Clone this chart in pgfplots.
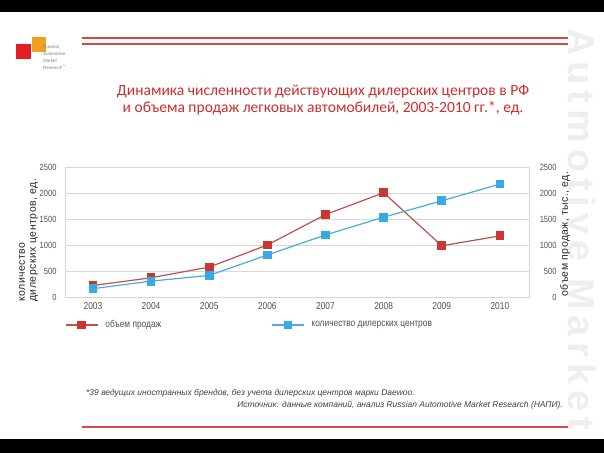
\documentclass[border=0pt]{standalone}
\usepackage{fontspec}
\setmainfont{Liberation Sans}
\newfontfamily\narrowfont{Liberation Sans}[FakeStretch=0.84]
\newfontfamily\titlefont{Carlito}
\newfontfamily\lspaced{Liberation Sans}[LetterSpace=5]
\newfontfamily\rspaced{Liberation Sans}[LetterSpace=4]
\newfontfamily\wmfont{Liberation Sans}[LetterSpace=16]
\usepackage{pgfplots}
\pgfplotsset{compat=1.18}
\definecolor{sred}{RGB}{192,80,77}
\definecolor{smred}{RGB}{200,55,50}
\definecolor{sblue}{RGB}{75,172,220}
\definecolor{smblue}{RGB}{55,170,230}
\definecolor{gridc}{RGB}{215,215,215}
\definecolor{ttl}{RGB}{210,45,45}
\definecolor{lnred}{RGB}{220,70,70}
\definecolor{tickc}{RGB}{80,80,80}
\definecolor{logoor}{RGB}{240,160,30}
\definecolor{logored}{RGB}{225,30,35}
\begin{document}
\begin{tikzpicture}[x=1bp,y=1bp]
\path[use as bounding box] (0,0) rectangle (604,453);
\begin{scope}
\clip (0,0) rectangle (604,453);
\fill[white] (0,0) rectangle (604,453);
\node[rotate=-90, anchor=base west, inner sep=0, text=gray!13, font=\wmfont\fontsize{38}{38}\selectfont\bfseries] at (568,425) {Autmotive Market};
\fill[black] (0,441) rectangle (604,453);
\fill[black] (0,0) rectangle (604,14);
\end{scope}
% decorative lines
\draw[lnred, line width=1.8bp] (82,415) -- (568,415);
\draw[lnred, line width=1.8bp] (82,409) -- (568,409);
\draw[lnred, line width=1.5bp] (82,26) -- (568,26);
% logo
\fill[logoor] (32,401) rectangle (46,416);
\fill[logored] (16,394) rectangle (31,409);
\node[anchor=north west, inner sep=0, align=left, text=gray, font=\fontsize{4.5}{7}\selectfont] at (43,408) {Russian\\Automotive\\Market\\Research\textsuperscript{™}};
% title
\node[align=center, text=ttl, font=\titlefont\fontsize{15.6}{17}\selectfont] at (323,353) {Динамика численности действующих дилерских центров в РФ\\и объема продаж легковых автомобилей, 2003-2010 гг.*, ед.};
% footnotes
\node[anchor=west, inner sep=0, text=black!75, font=\itshape\fontsize{8.5}{9}\selectfont] at (86,60) {*39 ведущих иностранных брендов, без учета дилерских центров марки Daewoo.};
\node[anchor=east, inner sep=0, text=black!75, font=\itshape\fontsize{8.5}{9}\selectfont] at (563,48) {Источник: данные компаний, анализ Russian Automotive Market Research (НАПИ).};
% axis labels
\node[rotate=90, anchor=north west, inner sep=0, align=left, text=black!85, font=\lspaced\fontsize{10.5}{11}\selectfont] at (19,151) {количество\\дилерских центров, ед.};
\node[rotate=90, inner sep=0, text=black!85, font=\rspaced\fontsize{10.5}{11}\selectfont] at (565,219) {объем продаж, тыс., ед.};

\begin{axis}[at={(65bp,156bp)}, anchor=south west, scale only axis,
  width=464bp, height=130bp,
  xmin=2002.52, xmax=2010.5, ymin=0, ymax=2500,
  ytick={0,500,...,2500}, xtick={2003,...,2010},
  ymajorgrids, grid style={gridc, line width=0.8bp},
  axis line style={gridc, line width=0.8bp},
  major tick length=0, tick style={draw=none},
  xticklabel style={text=tickc, font=\narrowfont\fontsize{10}{12}\selectfont, yshift=-2bp},
  yticklabel style={text=tickc, font=\narrowfont\fontsize{9}{11}\selectfont, xshift=-5bp},
  /pgf/number format/1000 sep={},
  /pgf/number format/assume math mode=true,
  legend columns=2,
  legend style={at={(0,-0.215)}, anchor=west, draw=none, fill=none, inner sep=0,
    font=\narrowfont\fontsize{10}{12}\selectfont, text=tickc,
    /tikz/every odd column/.append style={column sep=5bp},
    /tikz/every even column/.append style={column sep=108bp}},
  legend image code/.code={\draw[mark repeat=2, mark phase=2] plot coordinates {(0bp,0bp) (16bp,0bp) (32bp,0bp)};},
]
\addplot[sred, line width=1.2bp, mark=square*, mark size=3.8bp, mark options={fill=smred, draw=smred}]
  coordinates {(2003,220)(2004,370)(2005,575)(2006,1000)(2007,1585)(2008,2005)(2009,985)(2010,1175)};
\addlegendentry{объем продаж}
\addplot[sblue, line width=1.2bp, mark=square*, mark size=3.8bp, mark options={fill=smblue, draw=smblue}]
  coordinates {(2003,160)(2004,305)(2005,415)(2006,808)(2007,1193)(2008,1535)(2009,1850)(2010,2172)};
\addlegendentry{количество дилерских центров}
\end{axis}
\begin{axis}[at={(65bp,156bp)}, anchor=south west, scale only axis,
  width=464bp, height=130bp,
  xmin=2002.52, xmax=2010.5, ymin=0, ymax=2500,
  ytick={0,500,...,2500}, hide x axis, yticklabel pos=right,
  axis line style={draw=none}, major tick length=0, tick style={draw=none},
  yticklabel style={text=tickc, font=\narrowfont\fontsize{9}{11}\selectfont, text width=24bp, align=right},
  /pgf/number format/1000 sep={},
  /pgf/number format/assume math mode=true,
]
\end{axis}
\end{tikzpicture}
\end{document}
